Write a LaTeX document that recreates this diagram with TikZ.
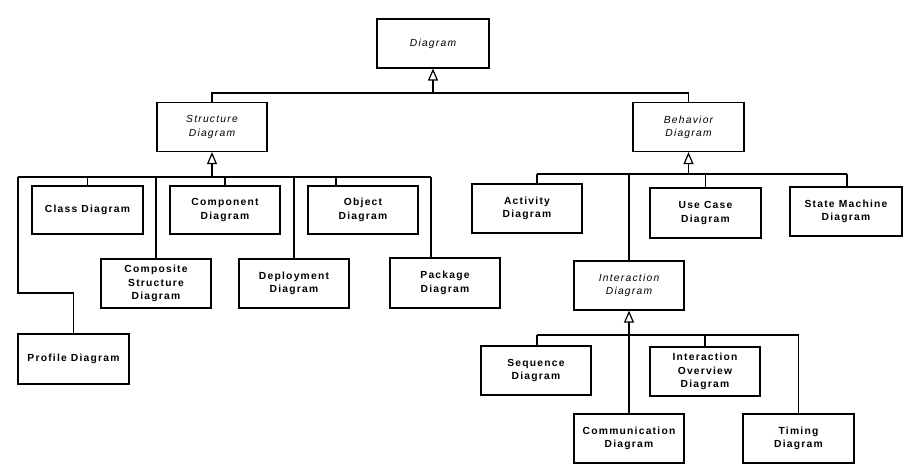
\documentclass[tikz,border=0pt]{standalone}
\usepackage{fontspec}
\setmainfont{Liberation Sans}[LetterSpace=12]
\usetikzlibrary{arrows.meta}
\begin{document}
\begin{tikzpicture}[x=1pt,y=-1pt,line width=1.2pt,
  umlbox/.style={draw,minimum width=110pt,minimum height=49pt,inner sep=1pt,
    align=center,font=\fontsize{10.3}{13.3}\selectfont\bfseries},
  abstractbox/.style={umlbox,font=\fontsize{10.3}{13.3}\selectfont\itshape},
  gen/.style={-{Triangle[open,length=12pt,width=10pt,line width=1.2pt]}}]
\useasboundingbox (0,0) rectangle (913,468);

% abstract categories
\node[abstractbox,minimum width=112pt] (diag) at (433,43.5) {Diagram};
\node[abstractbox] (struct) at (212,127) {Structure\\Diagram};
\node[abstractbox,minimum width=111pt] (behav) at (688.5,127) {Behavior\\Diagram};
\node[abstractbox] (inter) at (629,285.5) {Interaction\\Diagram};

% structure diagrams
\node[umlbox,minimum width=111pt,minimum height=48pt] (class) at (87.5,210) {Class Diagram};
\node[umlbox,minimum height=48pt] (comp) at (225,210) {Component\\Diagram};
\node[umlbox,minimum height=48pt] (obj) at (363,210) {Object\\Diagram};
\node[umlbox] (csd) at (156,283.5) {Composite\\Structure\\Diagram};
\node[umlbox] (depl) at (294,283.5) {Deployment\\Diagram};
\node[umlbox,minimum height=50pt] (pkg) at (445,283) {Package\\Diagram};
\node[umlbox,minimum width=111pt,minimum height=50pt] (prof) at (73.5,359) {Profile Diagram};

% behavior diagrams
\node[umlbox] (act) at (527,208.5) {Activity\\Diagram};
\node[umlbox,minimum width=111pt,minimum height=50pt] (uc) at (705.5,213) {Use Case\\Diagram};
\node[umlbox,minimum width=112pt] (sm) at (846,211.5) {State Machine\\Diagram};

% interaction diagrams
\node[umlbox] (seq) at (536,370.5) {Sequence\\Diagram};
\node[umlbox] (iod) at (705,371.5) {Interaction\\Overview\\Diagram};
\node[umlbox] (commd) at (629,438.5) {Communication\\Diagram};
\node[umlbox,minimum width=111pt] (timing) at (798.5,438.5) {Timing\\Diagram};

% junction bars
\coordinate (topL) at (212,93);
\coordinate (topR) at (688.5,93);
\coordinate (topM) at (433,93);
\coordinate (sL) at (18,177);
\coordinate (sR) at (431,177);
\coordinate (sM) at (212,177);
\coordinate (pTurn) at (18,293);
\coordinate (bL) at (537,174);
\coordinate (bR) at (847,174);
\coordinate (bM) at (688.5,174);
\coordinate (iL) at (537,335);
\coordinate (iR) at (798.5,335);
\coordinate (iM) at (629,335);

% Diagram generalization
\draw[gen] (topM) -- (diag.south);
\draw (struct.north) |- (topL) -- (topR) -- (behav.north);

% Structure Diagram generalization
\draw[gen] (sM) -- (struct.south);
\draw (sL) -- (sR);
\draw (class.north) -- (class.north |- sL);
\draw (comp.north) -- (comp.north |- sL);
\draw (obj.north -| 336,0) -- (336,177);
\draw (csd.north) -- (csd.north |- sL);
\draw (depl.north) -- (depl.north |- sL);
\draw (pkg.north -| sR) -- (sR);
\draw (sL) -- (pTurn) -| (prof.north);

% Behavior Diagram generalization
\draw[gen] (bM) -- (behav.south);
\draw (bL) -- (bR);
\draw (act.north -| bL) -- (bL);
\draw (uc.north) -- (uc.north |- bL);
\draw (sm.north -| bR) -- (bR);
\draw (inter.north) -- (inter.north |- bL);

% Interaction Diagram generalization
\draw[gen] (iM) -- (inter.south);
\draw (iL) -- (iR);
\draw (seq.north -| iL) -- (iL);
\draw (iod.north) -- (iod.north |- iL);
\draw (commd.north) -- (iM);
\draw (timing.north) -- (iR);
\end{tikzpicture}
\end{document}
